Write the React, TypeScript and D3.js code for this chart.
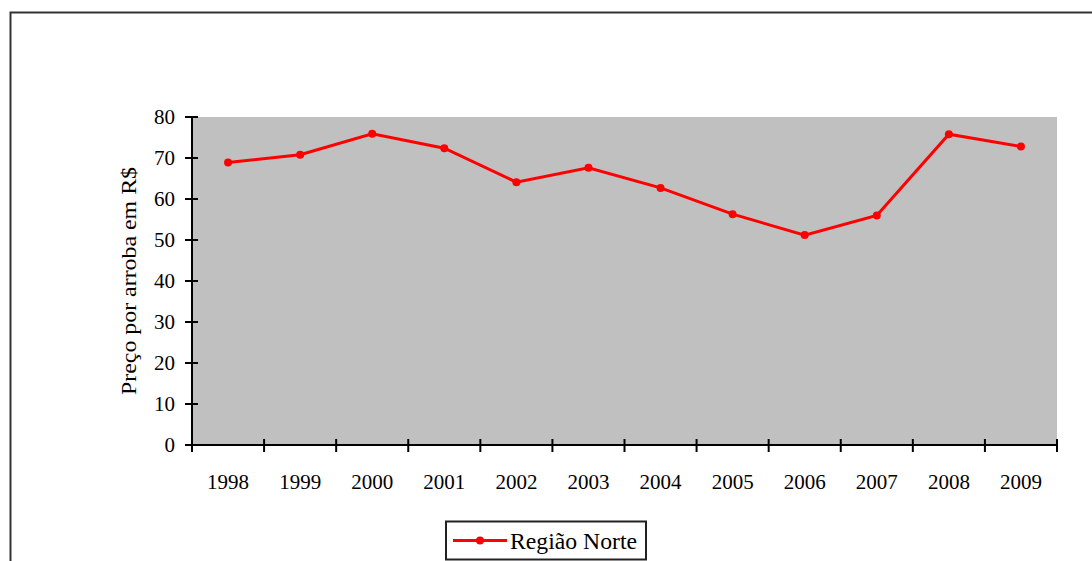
import React from "react";
import * as d3 from "d3";

const years = ["1998", "1999", "2000", "2001", "2002", "2003", "2004", "2005", "2006", "2007", "2008", "2009"];
const prices = [68.9, 70.8, 75.9, 72.4, 64.1, 67.6, 62.7, 56.3, 51.2, 56.0, 75.8, 72.8];
const yTicks = [0, 10, 20, 30, 40, 50, 60, 70, 80];
const seriesName = "Região Norte";
const yLabel = "Preço por arroba em R$";

const W = 1092;
const H = 561;
const plot = { left: 192, top: 117, right: 1057, bottom: 445 };
const serif = { fontFamily: "'Liberation Serif', 'DejaVu Serif', serif" };

export default function App() {
  const x = d3.scaleBand<string>().domain(years).range([plot.left, plot.right]);
  const y = d3.scaleLinear().domain([0, 80]).range([plot.bottom, plot.top]);
  const line = d3
    .line<number>()
    .x((_, i) => (x(years[i]) as number) + x.bandwidth() / 2)
    .y((d) => y(d));
  const boundaries = d3.range(years.length + 1).map((i) => plot.left + i * x.bandwidth());

  return (
    <svg width={W} height={H} style={{ position: "absolute", left: 0, top: 0, background: "#fff" }}>
      {/* outer frame */}
      <path d={`M10.5,${H} L10.5,12.5 L${W},12.5`} fill="none" stroke="#333" strokeWidth={2} />
      {/* plot area */}
      <rect
        x={plot.left}
        y={plot.top}
        width={plot.right - plot.left}
        height={plot.bottom - plot.top}
        fill="#c0c0c0"
      />
      {/* y axis */}
      <line x1={plot.left} x2={plot.left} y1={plot.top} y2={plot.bottom} stroke="#000" strokeWidth={2} />
      {yTicks.map((t) => (
        <g key={t}>
          <line x1={plot.left - 7} x2={plot.left + 6} y1={y(t)} y2={y(t)} stroke="#000" strokeWidth={2} />
          <text x={plot.left - 17} y={y(t)} dy="0.35em" textAnchor="end" fontSize={21} fill="#000" style={serif}>
            {t}
          </text>
        </g>
      ))}
      {/* x axis */}
      <line x1={plot.left - 7} x2={plot.right} y1={plot.bottom} y2={plot.bottom} stroke="#000" strokeWidth={2} />
      {boundaries.map((b, i) => (
        <line key={i} x1={b} x2={b} y1={plot.bottom - 6} y2={plot.bottom + 7} stroke="#000" strokeWidth={2} />
      ))}
      {years.map((yr) => (
        <text
          key={yr}
          x={(x(yr) as number) + x.bandwidth() / 2}
          y={489}
          textAnchor="middle"
          fontSize={21}
          fill="#000"
          style={serif}
        >
          {yr}
        </text>
      ))}
      {/* y label */}
      <text
        transform={`translate(136,${(plot.top + plot.bottom) / 2}) rotate(-90)`}
        textAnchor="middle"
        fontSize={22}
        fill="#000"
        style={serif}
        textLength={228}
        lengthAdjust="spacingAndGlyphs"
      >
        {yLabel}
      </text>
      {/* series */}
      <path d={line(prices) as string} fill="none" stroke="#ff0000" strokeWidth={3} />
      {prices.map((p, i) => (
        <circle
          key={i}
          cx={(x(years[i]) as number) + x.bandwidth() / 2}
          cy={y(p)}
          r={4}
          fill="#ff0000"
        />
      ))}
      {/* legend */}
      <rect x={446} y={521.5} width={200} height={38} fill="#fff" stroke="#222" strokeWidth={2} />
      <line x1={453} x2={507} y1={540.5} y2={540.5} stroke="#ff0000" strokeWidth={3} />
      <circle cx={480} cy={540.5} r={4} fill="#ff0000" />
      <text
        x={510}
        y={549}
        fontSize={23}
        fill="#000"
        style={serif}
        textLength={127}
        lengthAdjust="spacingAndGlyphs"
      >
        {seriesName}
      </text>
    </svg>
  );
}
